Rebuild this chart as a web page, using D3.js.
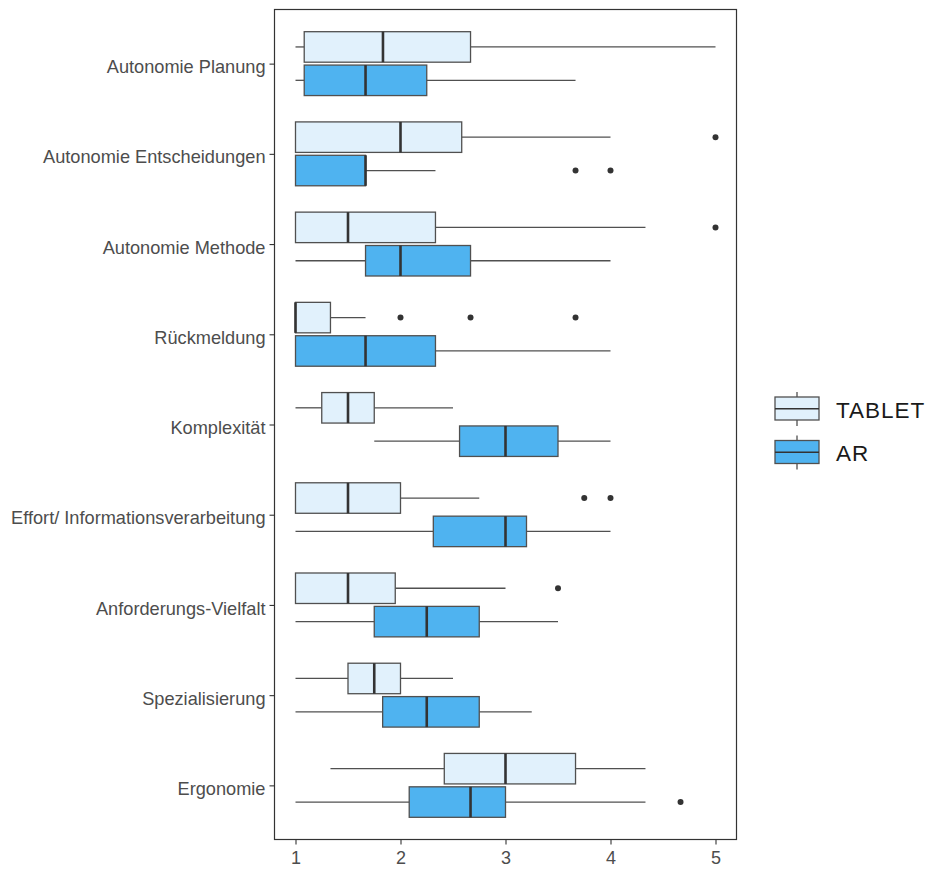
<!DOCTYPE html>
<html>
<head>
<meta charset="utf-8">
<script src="https://cdn.jsdelivr.net/npm/d3@7/dist/d3.min.js"></script>
<style>
  html, body { margin: 0; padding: 0; background: #fff; }
  svg { display: block; }
  text { font-family: "Liberation Sans", Arial, sans-serif; }
</style>
</head>
<body>
<svg id="chart" width="927" height="869"></svg>
<script>
// Job-characteristic scales, rated 1–5, compared between the two devices
const categories = [
  "Autonomie Planung",
  "Autonomie Entscheidungen",
  "Autonomie Methode",
  "Rückmeldung",
  "Komplexität",
  "Effort/ Informationsverarbeitung",
  "Anforderungs-Vielfalt",
  "Spezialisierung",
  "Ergonomie"
];
const groups = ["TABLET", "AR"];
const groupColors = ["#E1F1FC", "#4FB3F0"];
const xTicks = [1, 2, 3, 4, 5];

// TABLET five-number summaries (whisker ends, quartiles, median) and outliers
const tabletLow    = [1, 1, 1, 1, 1, 1, 1, 1, 1.333];
const tabletQ1     = [1.083, 1, 1, 1, 1.25, 1, 1, 1.5, 2.417];
const tabletMedian = [1.833, 2, 1.5, 1, 1.5, 1.5, 1.5, 1.75, 3];
const tabletQ3     = [2.667, 2.583, 2.333, 1.333, 1.75, 2, 1.95, 2, 3.667];
const tabletHigh   = [5, 4, 4.333, 1.667, 2.5, 2.75, 3, 2.5, 4.333];
const tabletOutliers = [[], [5], [5], [2, 2.667, 3.667], [], [3.75, 4], [3.5], [], []];

// AR five-number summaries and outliers
const arLow    = [1, 1, 1, 1, 1.75, 1, 1, 1, 1];
const arQ1     = [1.083, 1, 1.667, 1, 2.5625, 2.3125, 1.75, 1.83, 2.083];
const arMedian = [1.667, 1.667, 2, 1.667, 3, 3, 2.25, 2.25, 2.667];
const arQ3     = [2.25, 1.667, 2.667, 2.333, 3.5, 3.2, 2.75, 2.75, 3];
const arHigh   = [3.667, 2.333, 4, 4, 4, 4, 3.5, 3.25, 4.333];
const arOutliers = [[], [3.667, 4], [], [], [], [], [], [], [4.667]];

const stats = [
  { low: tabletLow, q1: tabletQ1, med: tabletMedian, q3: tabletQ3, high: tabletHigh, out: tabletOutliers },
  { low: arLow, q1: arQ1, med: arMedian, q3: arQ3, high: arHigh, out: arOutliers }
];

const panel = { left: 274.5, right: 736.5, top: 9.5, bottom: 839.5 };
const svg = d3.select("#chart");

const x = d3.scaleLinear().domain([0.8, 5.2]).range([panel.left, panel.right]);
const y = d3.scalePoint().domain(categories).range([panel.top, panel.bottom]).padding(0.6);
const step = y.step();

// vertical extent of each dodged box relative to the category centre
const outerOff = 0.354 * step;
const innerOff = 0.016 * step;
const boxSpan = g => g === 0 ? [-outerOff, -innerOff] : [innerOff, outerOff];

const lineCol = "#505050";
const plot = svg.append("g");

groups.forEach((gName, gi) => {
  const s = stats[gi];
  categories.forEach((cat, i) => {
    const c = y(cat);
    const [t, b] = boxSpan(gi).map(d => c + d);
    const mid = (t + b) / 2;
    const g = plot.append("g");
    // whiskers
    g.append("line").attr("x1", x(s.low[i])).attr("x2", x(s.q1[i]))
      .attr("y1", mid).attr("y2", mid).attr("stroke", lineCol).attr("stroke-width", 1.3);
    g.append("line").attr("x1", x(s.q3[i])).attr("x2", x(s.high[i]))
      .attr("y1", mid).attr("y2", mid).attr("stroke", lineCol).attr("stroke-width", 1.3);
    // box
    g.append("rect").attr("x", x(s.q1[i])).attr("y", t)
      .attr("width", x(s.q3[i]) - x(s.q1[i])).attr("height", b - t)
      .attr("fill", groupColors[gi]).attr("stroke", lineCol).attr("stroke-width", 1.3);
    // median
    g.append("line").attr("x1", x(s.med[i])).attr("x2", x(s.med[i]))
      .attr("y1", t).attr("y2", b).attr("stroke", "#333333").attr("stroke-width", 2.6);
    // outliers
    s.out[i].forEach(v => {
      g.append("circle").attr("cx", x(v)).attr("cy", mid).attr("r", 3)
        .attr("fill", "#333333");
    });
  });
});

// panel border
svg.append("rect")
  .attr("x", panel.left).attr("y", panel.top)
  .attr("width", panel.right - panel.left).attr("height", panel.bottom - panel.top)
  .attr("fill", "none").attr("stroke", "#333333").attr("stroke-width", 1.2);

// axes
const xAxis = d3.axisBottom(x).tickValues(xTicks).tickSize(5).tickPadding(7).tickFormat(d3.format("d"));
const gx = svg.append("g").attr("transform", `translate(0,${panel.bottom})`).call(xAxis);
gx.select(".domain").remove();
gx.selectAll(".tick line").attr("stroke", "#333333").attr("stroke-width", 1.1);
gx.selectAll(".tick text").attr("fill", "#4D4D4D").style("font-size", "18px")
  .style("font-family", "'Liberation Sans', Arial, sans-serif");

const yAxis = d3.axisLeft(y).tickSize(5).tickPadding(4);
const gy = svg.append("g").attr("transform", `translate(${panel.left},0)`).call(yAxis);
gy.select(".domain").remove();
gy.selectAll(".tick line").attr("stroke", "#333333").attr("stroke-width", 1.1);
gy.selectAll(".tick text").attr("fill", "#4D4D4D").attr("dy", "0.5em").style("font-size", "18.2px")
  .style("font-family", "'Liberation Sans', Arial, sans-serif");

// legend
const legend = svg.append("g").attr("transform", "translate(775,392)");
groups.forEach((gName, gi) => {
  const k = legend.append("g").attr("transform", `translate(0,${gi * 43.5})`);
  k.append("line").attr("x1", 22).attr("x2", 22).attr("y1", 0).attr("y2", 34)
    .attr("stroke", lineCol).attr("stroke-width", 1.3);
  k.append("rect").attr("x", 0).attr("y", 5).attr("width", 44).attr("height", 23)
    .attr("fill", groupColors[gi]).attr("stroke", lineCol).attr("stroke-width", 1.3);
  k.append("line").attr("x1", 0).attr("x2", 44).attr("y1", 16.7).attr("y2", 16.7)
    .attr("stroke", "#333333").attr("stroke-width", 1.6);
  k.append("text").attr("x", 61).attr("y", 25.5).attr("fill", "#1a1a1a")
    .style("font-size", "22.5px").style("letter-spacing", "1px").text(gName);
});
</script>
</body>
</html>
